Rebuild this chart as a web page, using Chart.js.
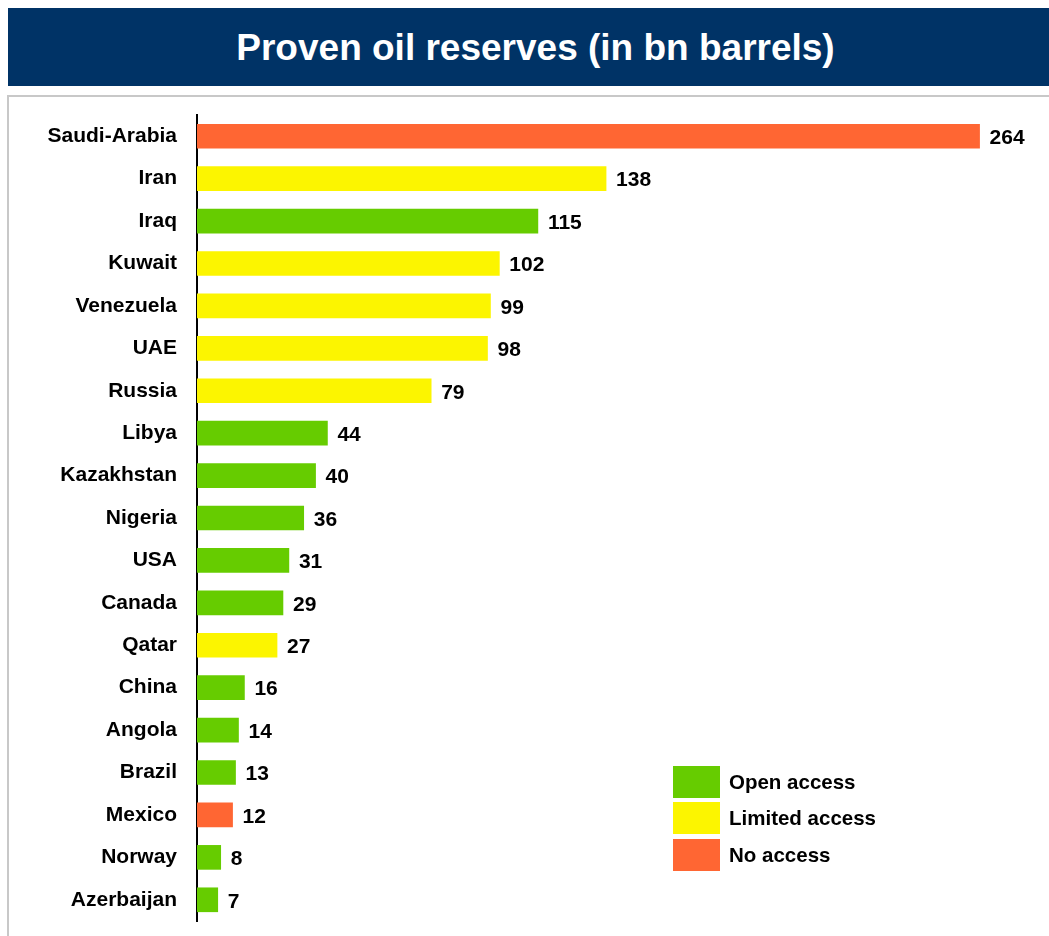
<!DOCTYPE html>
<html>
<head>
<meta charset="utf-8">
<script src="https://cdn.jsdelivr.net/npm/chart.js@4/dist/chart.umd.min.js"></script>
<style>
  body { margin: 0; background: #fff; width: 1049px; height: 936px; overflow: hidden; position: relative; font-family: "Liberation Sans", Arial, sans-serif; }
  #title { position: absolute; left: 8px; top: 8px; width: 1041px; height: 78px; background: #003366; color: #fff; box-sizing: border-box; padding-left: 14px;
           font: bold 37px "Liberation Sans", Arial, sans-serif; text-align: center; line-height: 80px; }
  #box { position: absolute; left: 7px; top: 95px; width: 1042px; height: 841px; border-left: 2px solid #c8c8c8; border-top: 2px solid #c8c8c8; box-sizing: border-box; }
  #wrap { position: absolute; left: 8px; top: 96px; width: 1041px; height: 840px; }
  #legend { position: absolute; left: 673px; top: 764px; }
  .item { height: 35px; display: flex; align-items: center; margin-bottom: 1.5px; }
  .sw { width: 47px; height: 32px; margin-right: 9px; }
  .item span { font: bold 20.5px "Liberation Sans", Arial, sans-serif; color: #000; }
</style>
</head>
<body>
<div id="title">Proven oil reserves (in bn barrels)</div>
<div id="box"></div>
<div id="wrap"><canvas id="oil"></canvas></div>
<div id="legend"></div>
<script>
var countries = ["Saudi-Arabia", "Iran", "Iraq", "Kuwait", "Venezuela", "UAE", "Russia", "Libya", "Kazakhstan",
  "Nigeria", "USA", "Canada", "Qatar", "China", "Angola", "Brazil", "Mexico", "Norway", "Azerbaijan"];
var reserves = [264, 138, 115, 102, 99, 98, 79, 44, 40, 36, 31, 29, 27, 16, 14, 13, 12, 8, 7];
var access = ["none", "limited", "open", "limited", "limited", "limited", "limited", "open", "open",
  "open", "open", "open", "limited", "open", "open", "open", "none", "open", "open"];
var accessNames = ["open", "limited", "none"];
var accessLabels = ["Open access", "Limited access", "No access"];
var accessColors = { open: "#66cc00", limited: "#fcf500", none: "#ff6633" };

var legend = document.getElementById("legend");
accessNames.forEach(function (a, i) {
  var d = document.createElement("div");
  d.className = "item";
  d.innerHTML = '<div class="sw" style="background:' + accessColors[a] + '"></div><span>' + accessLabels[i] + '</span>';
  legend.appendChild(d);
});

// numbers at the end of each bar
var valueLabels = {
  id: "valueLabels",
  afterDatasetsDraw: function (chart) {
    var ctx = chart.ctx;
    var meta = chart.getDatasetMeta(0);
    ctx.save();
    ctx.font = "bold 21px 'Liberation Sans', Arial, sans-serif";
    ctx.fillStyle = "#000";
    ctx.textBaseline = "middle";
    ctx.textAlign = "left";
    meta.data.forEach(function (bar, i) {
      ctx.fillText(reserves[i], bar.x + 10, bar.y + 2);
    });
    ctx.restore();
  }
};

var ctx = document.getElementById("oil");
var myChart = new Chart(ctx, {
  type: 'bar',
  data: {
    labels: countries,
    datasets: [{
      data: reserves,
      backgroundColor: access.map(function (a) { return accessColors[a]; }),
      barThickness: 24
    }]
  },
  options: {
    indexAxis: 'y',
    responsive: true,
    maintainAspectRatio: false,
    animation: false,
    layout: { padding: { top: 19, bottom: 15, left: 0, right: 22 } },
    plugins: { legend: { display: false }, tooltip: { enabled: false } },
    scales: {
      x: { display: false, min: 0, max: 280 },
      y: {
        grid: { display: false, drawTicks: false },
        border: { display: true, color: "#000", width: 2 },
        ticks: { color: "#000", padding: 20, font: { family: "'Liberation Sans', Arial, sans-serif", size: 21, weight: 'bold' } },
        afterFit: function (scale) {
          scale.width = 189;
          scale.paddingTop = 0;
          scale.paddingBottom = 0;
        }
      }
    }
  },
  plugins: [valueLabels]
});
</script>
</body>
</html>
